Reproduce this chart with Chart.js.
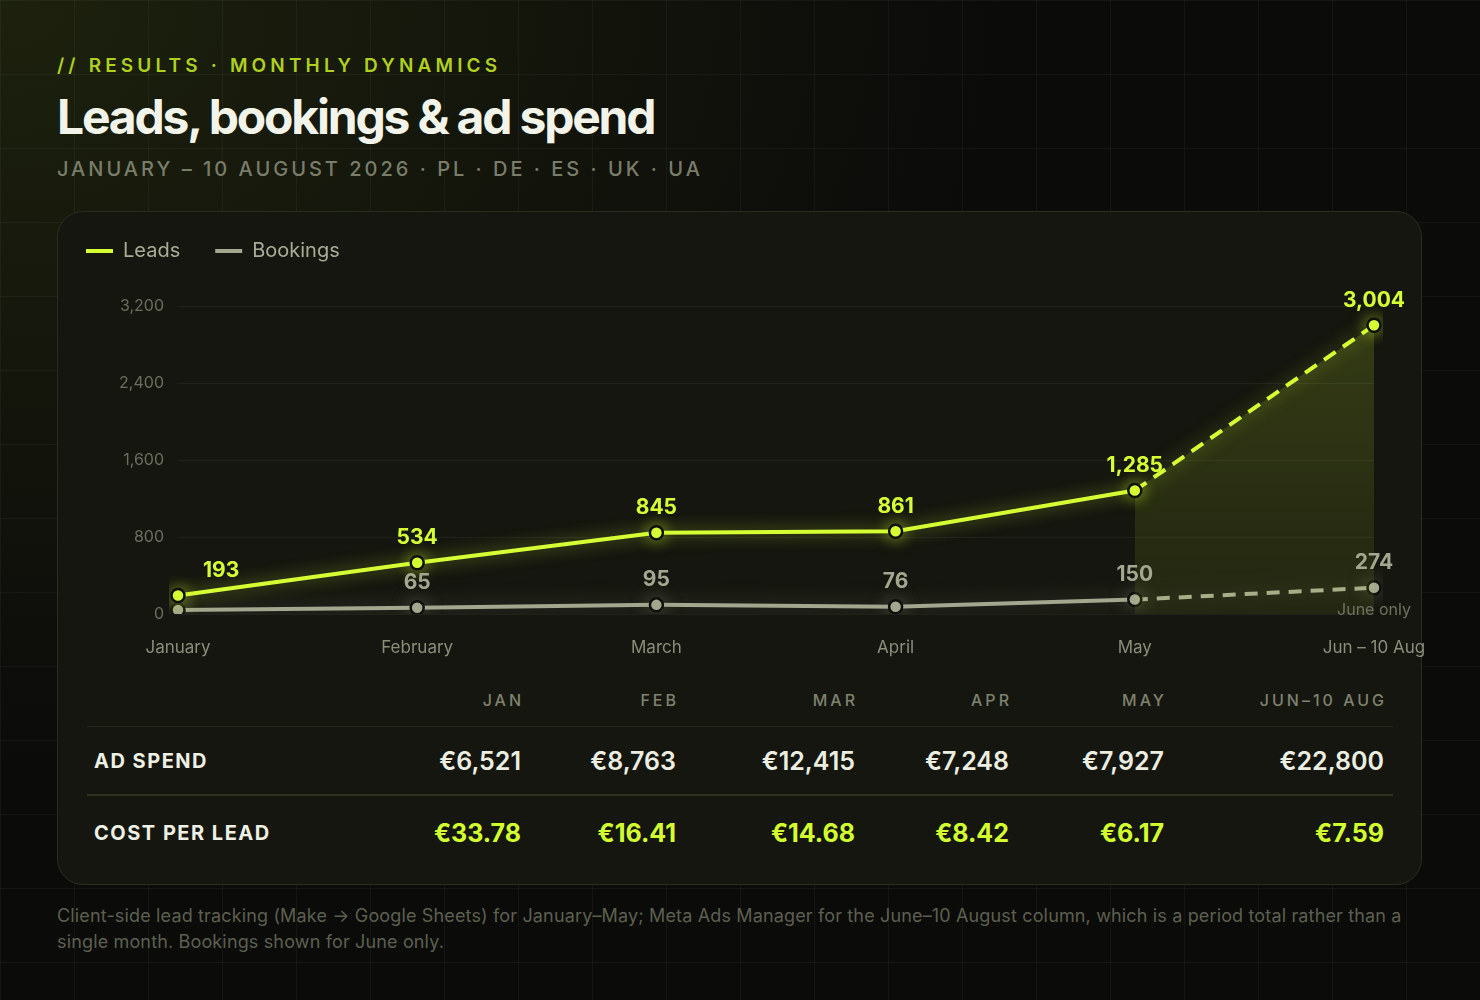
<!DOCTYPE html>
<html>
<head>
<meta charset="utf-8">
<title>Leads, bookings & ad spend</title>
<script src="https://cdn.jsdelivr.net/npm/chart.js@4.4.1/dist/chart.umd.min.js"></script>
<style>
  html, body { margin: 0; padding: 0; }
  body {
    width: 1480px; height: 1000px; position: relative; overflow: hidden;
    background-color: #0b0b0a;
    background-image:
      linear-gradient(to right, rgba(255,255,255,0.04) 1px, transparent 1px),
      linear-gradient(to bottom, rgba(255,255,255,0.04) 1px, transparent 1px),
      radial-gradient(ellipse 1000px 760px at 0 0, rgba(62,76,18,0.34), rgba(62,76,18,0) 100%);
    background-size: 74px 74px, 74px 74px, 100% 100%;
    font-family: Inter, "Noto Sans", sans-serif;
  }
  .overline {
    position: absolute; left: 57px; top: 56px; line-height: 19px;
    font-size: 19px; font-weight: 600; letter-spacing: 4.15px; color: #b0cf1f;
  }
  .title {
    position: absolute; left: 57px; top: 93px; line-height: 48px; margin: 0;
    font-size: 48px; font-weight: 700; letter-spacing: -2.2px; color: #f2f4e9;
  }
  .subtitle {
    position: absolute; left: 57px; top: 159px; line-height: 20px;
    font-size: 20px; font-weight: 500; letter-spacing: 3px; color: #7a7d6a;
  }
  .card {
    position: absolute; left: 57px; top: 211px; width: 1365px; height: 674px;
    box-sizing: border-box; border: 1.5px solid #2a2c1d; border-radius: 26px;
    background: #15160f;
  }
  .chart-box { position: absolute; left: 51px; top: 206px; width: 1409px; height: 467px; }
  .table { position: absolute; left: 87px; top: 680px; width: 1306px; }
  .row {
    display: grid; box-sizing: border-box; padding-right: 9px; align-items: center;
    grid-template-columns: 300px 134px 155px 179px 154px 155px 220px;
  }
  .row > div { text-align: right; white-space: nowrap; }
  .row > div:first-child { text-align: left; padding-left: 7px; }
  .head { height: 47px; padding-bottom: 7px; border-bottom: 1px solid #25271c; }
  .head > div { font-size: 16px; font-weight: 500; letter-spacing: 3px; color: #7f826f; margin-right: -3px; }
  .spend { height: 69px; border-bottom: 2px solid #2f321f; }
  .cpl { height: 74px; }
  .label { font-size: 20px; font-weight: 700; letter-spacing: 1.5px; color: #eef0e3; }
  .spend .val { font-size: 25px; font-weight: 600; color: #eceee1; }
  .cpl .val { font-size: 25px; font-weight: 700; color: #d4ff2e; }
  .footer {
    position: absolute; left: 57px; top: 903px; width: 1400px;
    font-size: 18px; line-height: 26px; letter-spacing: 0.15px; color: #5d6050;
  }
</style>
</head>
<body>
<div class="overline">// RESULTS · MONTHLY DYNAMICS</div>
<h1 class="title">Leads, bookings &amp; ad spend</h1>
<div class="subtitle">JANUARY – 10 AUGUST 2026 · PL · DE · ES · UK · UA</div>

<div class="card"></div>
<div class="chart-box"><canvas id="leadsChart"></canvas></div>

<div class="table">
  <div class="row head" id="headRow"><div></div></div>
  <div class="row spend" id="spendRow"><div class="label">AD SPEND</div></div>
  <div class="row cpl" id="cplRow"><div class="label">COST PER LEAD</div></div>
</div>

<div class="footer">Client-side lead tracking (Make → Google Sheets) for January–May; Meta Ads Manager for the June–10 August column, which is a period total rather than a<br>single month. Bookings shown for June only.</div>

<script>
const months = ['January', 'February', 'March', 'April', 'May', 'Jun – 10 Aug'];
const leads = [193, 534, 845, 861, 1285, 3004];
const bookings = [41, 65, 95, 76, 150, 274];
const yTicks = [0, 800, 1600, 2400, 3200];

const tableCols = ['JAN', 'FEB', 'MAR', 'APR', 'MAY', 'JUN–10 AUG'];
const adSpend = [6521, 8763, 12415, 7248, 7927, 22800];
const costPerLead = [33.78, 16.41, 14.68, 8.42, 6.17, 7.59];

const bookingsNote = 'June only';

const LIME = '#d6ff34';
const SAGE = '#a3a78f';
const DARK = '#0f100b';

// table under the chart
function fillRow(id, values, fmt, cls) {
    const row = document.getElementById(id);
    values.forEach(v => {
        const cell = document.createElement('div');
        if (cls) cell.className = cls;
        cell.textContent = fmt(v);
        row.appendChild(cell);
    });
}
fillRow('headRow', tableCols, v => v);
fillRow('spendRow', adSpend, v => '€' + v.toLocaleString('en-US'), 'val');
fillRow('cplRow', costPerLead, v => '€' + v.toFixed(2), 'val');

// last segment (May -> Jun/Aug) is a period total: dashed + filled
const lastIdx = months.length - 1;
let fillGrad = null;
function segFill(ctx) {
    if (ctx.p1DataIndex !== lastIdx) return 'rgba(0,0,0,0)';
    const area = ctx.chart.chartArea;
    if (!area) return 'rgba(0,0,0,0)';
    if (!fillGrad) {
        fillGrad = ctx.chart.ctx.createLinearGradient(0, area.top, 0, area.bottom);
        fillGrad.addColorStop(0, 'rgba(214,255,52,0.17)');
        fillGrad.addColorStop(1, 'rgba(214,255,52,0.07)');
    }
    return fillGrad;
}

const glowColors = ['rgba(214,255,52,0.55)', 'rgba(170,176,150,0.4)'];
const glow = {
    id: 'glow',
    beforeDatasetDraw(chart, args) {
        const ctx = chart.ctx;
        ctx.save();
        ctx.shadowColor = glowColors[args.index];
        ctx.shadowBlur = args.index === 0 ? 16 : 20;
    },
    afterDatasetDraw(chart) {
        chart.ctx.restore();
    }
};

const valueLabels = {
    id: 'valueLabels',
    afterDatasetsDraw(chart) {
        const ctx = chart.ctx;
        ctx.save();
        ctx.textBaseline = 'middle';
        chart.data.datasets.forEach((ds, di) => {
            const meta = chart.getDatasetMeta(di);
            meta.data.forEach((pt, i) => {
                if (di === 1 && i === 0) return; // sits under the 193 label
                let x = pt.x;
                ctx.textAlign = 'center';
                if (di === 0 && i === 0) { x += 25; ctx.textAlign = 'left'; }
                ctx.font = '700 21px Inter';
                ctx.fillStyle = di === 0 ? LIME : SAGE;
                ctx.fillText(ds.data[i].toLocaleString('en-US'), x, pt.y - 25);
            });
        });
        const last = chart.getDatasetMeta(1).data[lastIdx];
        ctx.textAlign = 'center';
        ctx.font = '400 16px Inter';
        ctx.fillStyle = '#6f7261';
        ctx.fillText(bookingsNote, last.x, last.y + 23);
        ctx.restore();
    }
};

Chart.defaults.font.family = 'Inter';

const chart = new Chart(document.getElementById('leadsChart'), {
    type: 'line',
    data: {
        labels: months,
        datasets: [
            {
                label: 'Leads',
                data: leads,
                borderColor: LIME,
                backgroundColor: LIME,
                borderWidth: 4,
                fill: 'origin',
                tension: 0,
                pointRadius: 6.5,
                pointBorderWidth: 2.5,
                pointBackgroundColor: LIME,
                pointBorderColor: DARK,
                segment: {
                    borderDash: ctx => ctx.p1DataIndex === lastIdx ? [14, 9] : undefined,
                    backgroundColor: segFill
                }
            },
            {
                label: 'Bookings',
                data: bookings,
                borderColor: SAGE,
                backgroundColor: SAGE,
                borderWidth: 4,
                fill: false,
                tension: 0,
                pointRadius: 6.5,
                pointBorderWidth: 2.5,
                pointBackgroundColor: SAGE,
                pointBorderColor: DARK,
                segment: {
                    borderDash: ctx => ctx.p1DataIndex === lastIdx ? [13, 9] : undefined
                }
            }
        ]
    },
    options: {
        responsive: true,
        maintainAspectRatio: false,
        animation: false,
        events: [],
        layout: { padding: { left: 0, right: 86, top: 0, bottom: 0 } },
        plugins: {
            tooltip: { enabled: false },
            legend: {
                display: true,
                position: 'top',
                align: 'start',
                labels: {
                    color: '#a9ad97',
                    font: { size: 20, weight: '400' },
                    boxWidth: 27,
                    boxHeight: 4,
                    padding: 35,
                    useBorderRadius: true,
                    borderRadius: 2,
                    generateLabels: c => c.data.datasets.map((ds, i) => ({
                        text: ds.label,
                        fillStyle: ds.borderColor,
                        strokeStyle: ds.borderColor,
                        lineWidth: 0,
                        fontColor: '#a9ad97',
                        datasetIndex: i,
                        hidden: false
                    }))
                }
            },
            // empty spacer between legend and plot
            subtitle: {
                display: true,
                text: '',
                weight: 500,
                font: { size: 10 },
                padding: { top: 0, bottom: 23.5 }
            }
        },
        scales: {
            x: {
                grid: { display: false },
                border: { display: false },
                ticks: { color: '#8a8e7a', font: { size: 17 }, padding: 16, maxRotation: 0, autoSkip: false },
                afterFit: s => { s.height = 59; }
            },
            y: {
                min: yTicks[0],
                max: yTicks[yTicks.length - 1],
                grid: { color: 'rgba(255,255,255,0.055)', drawTicks: false, lineWidth: 1 },
                border: { display: false },
                ticks: {
                    color: '#6b6e5d',
                    font: { size: 16 },
                    padding: 14,
                    callback: v => v.toLocaleString('en-US')
                },
                afterBuildTicks: s => { s.ticks = yTicks.map(v => ({ value: v })); },
                afterFit: s => { s.width = 127; }
            }
        }
    },
    plugins: [glow, valueLabels]
});
</script>
</body>
</html>
